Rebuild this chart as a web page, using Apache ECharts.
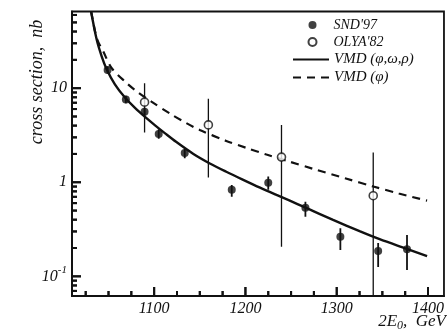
<!DOCTYPE html>
<html><head><meta charset="utf-8">
<script src="https://cdn.jsdelivr.net/npm/echarts@6/dist/echarts.min.js"></script>
<style>html,body{margin:0;padding:0;background:#fff}#c{width:447px;height:331px}</style>
</head><body><div id="c"></div>
<script>
// SND'97 (filled points)
const sndX = [1049, 1069, 1089.5, 1105, 1133.5, 1185, 1225, 1265.7, 1304, 1345.4, 1377];
const sndY = [15.6, 7.6, 5.6, 3.26, 2.04, 0.83, 0.99, 0.537, 0.264, 0.186, 0.194];
const sndLo = [14.3, 6.9, 5.1, 2.90, 1.80, 0.70, 0.83, 0.43, 0.19, 0.126, 0.117];
const sndHi = [17.0, 8.3, 6.2, 3.65, 2.30, 0.935, 1.15, 0.622, 0.324, 0.226, 0.275];
// OLYA'82 (open points)
const olyaX = [1089.5, 1159.4, 1239.5, 1340];
const olyaY = [7.1, 4.07, 1.85, 0.72];
const olyaLo = [3.37, 1.12, 0.206, 0.03];
const olyaHi = [11.3, 7.7, 4.07, 2.07];
// VMD (phi, omega, rho) curve
const solidX = [1030.9, 1037.1, 1042.6, 1048, 1057, 1068, 1079, 1090, 1101, 1112, 1124, 1143, 1161, 1179, 1197, 1216, 1234, 1248, 1266, 1296, 1325, 1347, 1376, 1399];
const solidY = [65.3, 32.7, 21.7, 15.9, 10.96, 7.94, 6.17, 4.95, 4.03, 3.31, 2.69, 2.0, 1.585, 1.294, 1.067, 0.875, 0.733, 0.641, 0.537, 0.398, 0.302, 0.248, 0.197, 0.164];
// VMD (phi) curve
const dashX = [1031, 1037.3, 1044.3, 1053.5, 1068, 1079, 1097, 1119, 1135, 1150, 1179, 1201, 1223, 1248, 1274, 1310, 1340, 1368, 1399];
const dashY = [65.3, 33.5, 24.5, 16.3, 11.75, 9.55, 7.19, 5.25, 4.27, 3.59, 2.75, 2.32, 1.97, 1.66, 1.39, 1.096, 0.902, 0.759, 0.637];
// ticks
const xMinorTicks = [1025,1050,1075,1125,1150,1175,1225,1250,1275,1325,1350,1375];
const xMajorTicks = [1100, 1200, 1300, 1400];
const yMajorTicks = [0.1, 1, 10];
const yMinorTicks = [0.07,0.08,0.09,0.2,0.3,0.4,0.5,0.6,0.7,0.8,0.9,2,3,4,5,6,7,8,9,20,30,40,50,60];

const zip = (a, b) => a.map((v, i) => [v, b[i]]);
const zip3 = (a, b, c) => a.map((v, i) => [v, b[i], c[i]]);
const FONT = 'Liberation Serif';
const INK = '#111';
const X_MIN = 1010, X_MAX = 1417.5, Y_MIN = 0.0618, Y_MAX = 65.3;
const TICK_W = 2, MAJOR_LEN = 9, MINOR_LEN = 5;

function errRender(w) {
  return function (params, api) {
    const x = api.value(0);
    const p1 = api.coord([x, api.value(1)]);
    const p2 = api.coord([x, api.value(2)]);
    return { type: 'line', shape: { x1: p1[0], y1: p1[1], x2: p2[0], y2: p2[1] },
             style: { stroke: INK, lineWidth: w } };
  };
}
// inward ticks through the axes' scales (position from api.coord, edge from the grid rect)
function xTickSeries(vals, len) {
  return { type: 'custom', data: vals.map(v => [v, 1]), clip: false, z: 6,
    renderItem: function (params, api) {
      const pt = api.coord([api.value(0), api.value(1)]);
      const cs = params.coordSys; const yb = cs.y + cs.height;
      return { type: 'line', shape: { x1: pt[0], y1: yb, x2: pt[0], y2: yb - len }, style: { stroke: INK, lineWidth: TICK_W } };
    } };
}
function yTickSeries(vals, len) {
  return { type: 'custom', data: vals.map(v => [1200, v]), clip: false, z: 6,
    renderItem: function (params, api) {
      const pt = api.coord([api.value(0), api.value(1)]);
      const xl = params.coordSys.x;
      return { type: 'line', shape: { x1: xl, y1: pt[1], x2: xl + len, y2: pt[1] }, style: { stroke: INK, lineWidth: TICK_W } };
    } };
}

const chart = echarts.init(document.getElementById('c'), null, { renderer: 'canvas' });
chart.setOption({
  animation: false,
  grid: { left: 72, top: 11.5, right: 2, bottom: 35, show: true, borderColor: INK, borderWidth: 1.8, backgroundColor: 'transparent' },
  legend: [
    { left: 307.5, top: 18, orient: 'vertical', itemWidth: 8, itemHeight: 8, itemGap: 3, padding: 0,
      data: ["SND'97", "OLYA'82"],
      textStyle: { fontFamily: FONT, fontStyle: 'italic', fontSize: 14, color: INK, padding: [0, 0, 0, 12] } },
    { left: 292, top: 52, orient: 'vertical', itemWidth: 36, itemHeight: 8, itemGap: 3, padding: 0,
      data: ['VMD (φ,ω,ρ)', 'VMD (φ)'],
      itemStyle: { color: 'transparent', borderColor: 'transparent', borderWidth: 0 },
      textStyle: { fontFamily: FONT, fontStyle: 'italic', fontSize: 15, color: INK } }
  ],
  xAxis: [
    { type: 'value', min: X_MIN, max: X_MAX, splitLine: { show: false },
      axisLine: { show: true, lineStyle: { color: INK, width: 1.8 } },
      axisTick: { show: false },
      axisLabel: { customValues: xMajorTicks, margin: 5, fontFamily: FONT, fontStyle: 'italic', fontSize: 16, color: INK,
        formatter: v => String(v) } }
  ],
  yAxis: [
    { type: 'log', min: Y_MIN, max: Y_MAX, position: 'left', splitLine: { show: false },
      axisLine: { show: true, lineStyle: { color: INK, width: 1.8 } },
      axisTick: { show: false },
      axisLabel: { customValues: yMajorTicks, margin: 5, fontFamily: FONT, fontStyle: 'italic', fontSize: 16, color: INK,
        formatter: v => (Math.abs(v - 0.1) < 1e-6 ? '10{s|-1}' : (v >= 9 ? '10' : '1')),
        rich: { s: { fontFamily: FONT, fontStyle: 'italic', fontSize: 11, color: INK, padding: [0, 0, 12, 0] } } } }
  ],
  series: [
    { name: 'VMD (φ,ω,ρ)', type: 'line', data: zip(solidX, solidY), smooth: 0.3, symbol: 'none', clip: true,
      lineStyle: { color: INK, width: 2.4 }, itemStyle: { color: INK } },
    { name: 'VMD (φ)', type: 'line', data: zip(dashX, dashY), smooth: 0.3, symbol: 'none', clip: true,
      lineStyle: { color: INK, width: 2.2, type: [8, 6] }, itemStyle: { color: INK } },
    { name: 'sndErr', type: 'custom', data: zip3(sndX, sndLo, sndHi), renderItem: errRender(1.8), clip: true, silent: true, z: 3 },
    { name: 'olyaErr', type: 'custom', data: zip3(olyaX, olyaLo, olyaHi), renderItem: errRender(1.3), clip: true, silent: true, z: 3 },
    { name: "SND'97", type: 'scatter', data: zip(sndX, sndY), symbol: 'circle', symbolSize: 8, z: 4,
      itemStyle: { color: INK } },
    { name: "OLYA'82", type: 'scatter', data: zip(olyaX, olyaY), symbol: 'circle', symbolSize: 8, z: 4,
      itemStyle: { color: '#fff', borderColor: INK, borderWidth: 1.6 } },
    xTickSeries(xMinorTicks, MINOR_LEN),
    xTickSeries(xMajorTicks, MAJOR_LEN),
    yTickSeries(yMinorTicks, MINOR_LEN),
    yTickSeries(yMajorTicks, MAJOR_LEN)
  ]
});

// axis titles, plus the same inward ticks placed via convertToPixel (identical positions)
const g = [
  { type: 'text', x: 37, y: 82, rotation: Math.PI / 2,
    style: { text: 'cross section,  nb', fontFamily: FONT, fontStyle: 'italic', fontSize: 18, fill: INK, align: 'center', verticalAlign: 'middle' } },
  { type: 'text', x: 446, y: 322,
    style: { text: '2E{s|0},  GeV', fontFamily: FONT, fontStyle: 'italic', fontSize: 17, fill: INK, align: 'right', verticalAlign: 'middle',
      rich: { s: { fontFamily: FONT, fontStyle: 'italic', fontSize: 12, fill: INK, padding: [8, 0, 0, 0] } } } }
];
function addX(vals, len) { vals.forEach(v => {
  const p = chart.convertToPixel({ gridIndex: 0 }, [v, Y_MIN]);
  g.push({ type: 'line', shape: { x1: p[0], y1: p[1], x2: p[0], y2: p[1] - len }, style: { stroke: INK, lineWidth: TICK_W } });
}); }
function addY(vals, len) { vals.forEach(v => {
  const p = chart.convertToPixel({ gridIndex: 0 }, [X_MIN, v]);
  g.push({ type: 'line', shape: { x1: p[0], y1: p[1], x2: p[0] + len, y2: p[1] }, style: { stroke: INK, lineWidth: TICK_W } });
}); }
try { addX(xMinorTicks, MINOR_LEN); addX(xMajorTicks, MAJOR_LEN); addY(yMinorTicks, MINOR_LEN); addY(yMajorTicks, MAJOR_LEN); } catch (e) {}
chart.setOption({ graphic: g });
</script></body></html>
